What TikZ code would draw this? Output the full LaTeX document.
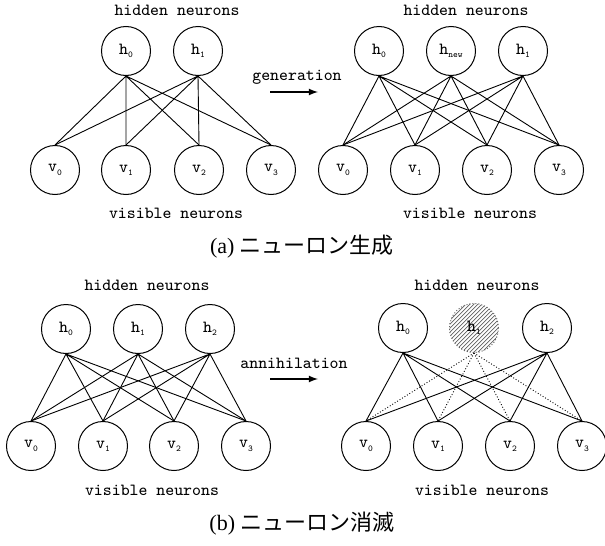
\documentclass[tikz,border=0pt]{standalone}
\usepackage{fontspec}
\setmainfont{Liberation Serif}
\newfontfamily\cjk{Noto Sans CJK JP}
\usetikzlibrary{arrows}
\newcommand{\nsub}[1]{\raisebox{-0.45ex}{\fontsize{4.5}{4.5}\selectfont #1}}

\begin{document}
\begin{tikzpicture}[x=0.5pt,y=-0.5pt]
\tikzstyle{every node}+=[inner sep=0pt,font=\ttfamily\fontsize{8.5}{9}\selectfont]
\tikzstyle{neuron}=[draw,circle,minimum size=24.5pt,line width=0.5pt]
\tikzstyle{gone}=[circle,minimum size=24.5pt,draw=gray!80!black,densely dotted,line width=0.5pt,
  path picture={\foreach \k in {-30,-28,...,30}
    \draw [gray!75!black,solid,line width=0.35pt] ([xshift=\k pt-15pt,yshift=-15pt]path picture bounding box.center) -- ++(30pt,30pt);}]
\tikzstyle{link}=[line width=0.45pt]
\tikzstyle{cut}=[line width=0.45pt,densely dotted]
\tikzstyle{caption}=[font=\rmfamily\fontsize{11}{13}\selectfont]
\useasboundingbox (0,0) rectangle (605,546);
% (a) generation, before
\node [neuron] (ah0) at (126,51) {h\nsub{0}};
\node [neuron] (ah1) at (198,51) {h\nsub{1}};
\node [neuron] (av0) at (55,170) {v\nsub{0}};
\node [neuron] (av1) at (126,170) {v\nsub{1}};
\node [neuron] (av2) at (199,170) {v\nsub{2}};
\node [neuron] (av3) at (271,170) {v\nsub{3}};
\node (ahid) at (177,10) {hidden neurons};
\node (avis) at (176,213) {visible neurons};
\draw [link] (ah0.south) -- (av0.north) (ah0.south) -- (av1.north) (ah0.south) -- (av2.north) (ah0.south) -- (av3.north);
\draw [link] (ah1.south) -- (av0.north) (ah1.south) -- (av1.north) (ah1.south) -- (av2.north) (ah1.south) -- (av3.north);
% (a) generation, after
\node [neuron] (bh0) at (379,51) {h\nsub{0}};
\node [neuron] (bhn) at (451,51) {h\nsub{new}};
\node [neuron] (bh1) at (523,51) {h\nsub{1}};
\node [neuron] (bv0) at (343,170) {v\nsub{0}};
\node [neuron] (bv1) at (415,170) {v\nsub{1}};
\node [neuron] (bv2) at (487,170) {v\nsub{2}};
\node [neuron] (bv3) at (559,170) {v\nsub{3}};
\node (bhid) at (466,10) {hidden neurons};
\node (bvis) at (470,213) {visible neurons};
\draw [link] (bh0.south) -- (bv0.north) (bh0.south) -- (bv1.north) (bh0.south) -- (bv2.north) (bh0.south) -- (bv3.north);
\draw [link] (bhn.south) -- (bv0.north) (bhn.south) -- (bv1.north) (bhn.south) -- (bv2.north) (bhn.south) -- (bv3.north);
\draw [link] (bh1.south) -- (bv0.north) (bh1.south) -- (bv1.north) (bh1.south) -- (bv2.north) (bh1.south) -- (bv3.north);
\node (gen) at (297,77) {generation};
\coordinate (gena) at (270,92);
\coordinate (genb) at (318,92);
\draw [-latex,line width=0.6pt] (gena) -- (genb);
\node [caption] (capa) at (302,247) {(a) {\cjk ニューロン生成}};
% (b) annihilation, before
\node [neuron] (ch0) at (66,329) {h\nsub{0}};
\node [neuron] (ch1) at (138,329) {h\nsub{1}};
\node [neuron] (ch2) at (210,329) {h\nsub{2}};
\node [neuron] (cv0) at (31,446) {v\nsub{0}};
\node [neuron] (cv1) at (103,446) {v\nsub{1}};
\node [neuron] (cv2) at (174,446) {v\nsub{2}};
\node [neuron] (cv3) at (246,446) {v\nsub{3}};
\node (chid) at (147,285) {hidden neurons};
\node (cvis) at (152,490) {visible neurons};
\draw [link] (ch0.south) -- (cv0.north) (ch0.south) -- (cv1.north) (ch0.south) -- (cv2.north) (ch0.south) -- (cv3.north);
\draw [link] (ch1.south) -- (cv0.north) (ch1.south) -- (cv1.north) (ch1.south) -- (cv2.north) (ch1.south) -- (cv3.north);
\draw [link] (ch2.south) -- (cv0.north) (ch2.south) -- (cv1.north) (ch2.south) -- (cv2.north) (ch2.south) -- (cv3.north);
% (b) annihilation, after
\node [neuron] (dh0) at (403,328) {h\nsub{0}};
\node [gone] (dh1) at (474,328) {h\nsub{1}};
\node [neuron] (dh2) at (547,328) {h\nsub{2}};
\node [neuron] (dv0) at (366,446) {v\nsub{0}};
\node [neuron] (dv1) at (438,446) {v\nsub{1}};
\node [neuron] (dv2) at (510,446) {v\nsub{2}};
\node [neuron] (dv3) at (582,446) {v\nsub{3}};
\node (dhid) at (477,285) {hidden neurons};
\node (dvis) at (482,490) {visible neurons};
\draw [link] (dh0.south) -- (dv0.north) (dh0.south) -- (dv1.north) (dh0.south) -- (dv2.north) (dh0.south) -- (dv3.north);
\draw [cut] (dh1.south) -- (dv0.north) (dh1.south) -- (dv1.north) (dh1.south) -- (dv2.north) (dh1.south) -- (dv3.north);
\draw [link] (dh2.south) -- (dv0.north) (dh2.south) -- (dv1.north) (dh2.south) -- (dv2.north) (dh2.south) -- (dv3.north);
\node (ann) at (294,363) {annihilation};
\coordinate (anna) at (270,379);
\coordinate (annb) at (318,379);
\draw [-latex,line width=0.6pt] (anna) -- (annb);
\node [caption] (capb) at (302,524) {(b) {\cjk ニューロン消滅}};
\end{tikzpicture}
\end{document}
